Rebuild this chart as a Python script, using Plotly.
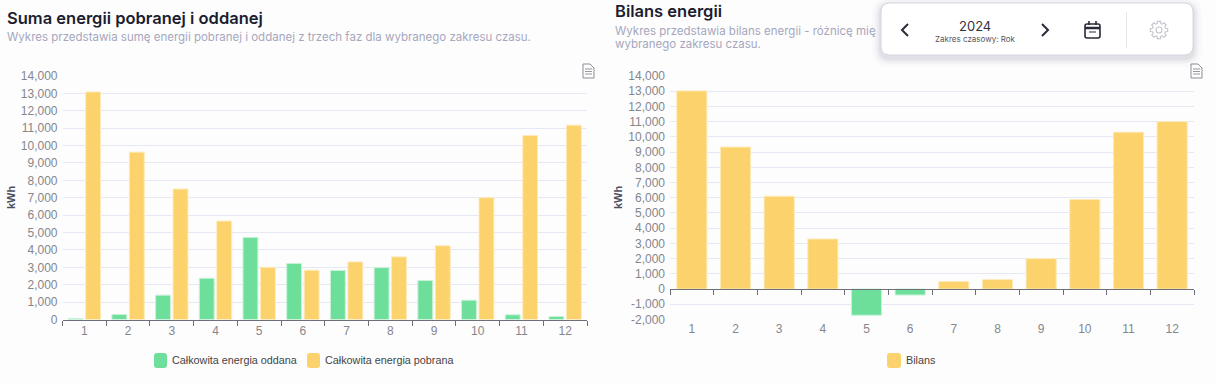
import math
import plotly.graph_objects as go

W, H = 1216, 383
months = [str(i) for i in range(1, 13)]
oddana = [60, 290, 1400, 2370, 4720, 3220, 2820, 2980, 2240, 1110, 270, 170]
pobrana = [13080, 9620, 7500, 5660, 3000, 2830, 3310, 3600, 4240, 7000, 10580, 11170]
bilans = [13020, 9330, 6100, 3290, -1720, -390, 490, 620, 2000, 5890, 10310, 11000]
ticks_left = list(range(0, 14001, 1000))
ticks_right = list(range(-2000, 14001, 1000))
labels_left = [f"{v:,}" for v in ticks_left]
labels_right = [f"{v:,}" for v in ticks_right]

GREEN, GOLD = "#6ede9b", "#fbd26c"
GRID = "#e6e8f4"
AXIS = "#6e7079"
TICK_FONT = dict(family="Liberation Sans", size=12, color="#85868c")


def px(x):
    return x / W


def py(y):
    return 1 - y / H


shapes, ann = [], []


def text(x, y, s, size, color, family="Liberation Sans", weight=None, anchor="left", angle=0):
    dx = -2 if anchor == "left" else 0
    ann.append(dict(xref="paper", yref="paper", x=px(x + dx), y=py(y), text=s, showarrow=False,
                    xanchor=anchor, yanchor="middle", textangle=angle,
                    font=dict(family=family, size=size, color=color, weight=weight)))


def rrect(x0, y0, x1, y1, r, fill, line=None, lw=0, opacity=1):
    p = (f"M{px(x0+r)},{py(y0)} L{px(x1-r)},{py(y0)} Q{px(x1)},{py(y0)} {px(x1)},{py(y0+r)} "
         f"L{px(x1)},{py(y1-r)} Q{px(x1)},{py(y1)} {px(x1-r)},{py(y1)} L{px(x0+r)},{py(y1)} "
         f"Q{px(x0)},{py(y1)} {px(x0)},{py(y1-r)} L{px(x0)},{py(y0+r)} Q{px(x0)},{py(y0)} {px(x0+r)},{py(y0)} Z")
    shapes.append(dict(type="path", xref="paper", yref="paper", path=p, fillcolor=fill, opacity=opacity,
                       line=dict(color=line or "rgba(0,0,0,0)", width=lw), layer="above"))


def poly(points, color, width=1.3, fill=None, close=False):
    p = "M" + " L".join(f"{px(a)},{py(b)}" for a, b in points) + (" Z" if close else "")
    shapes.append(dict(type="path", xref="paper", yref="paper", path=p,
                       fillcolor=fill or "rgba(0,0,0,0)", line=dict(color=color, width=width), layer="above"))


def doc_icon(x, y):
    poly([(x, y), (x + 7, y), (x + 11, y + 4), (x + 11, y + 14), (x, y + 14)], "#8b8d94", 1, close=True)
    for d in (5, 7.5, 10):
        poly([(x + 2, y + d), (x + 9, y + d)], "#8b8d94", 0.9)


fig = go.Figure()
fig.add_bar(x=months, y=oddana, name="Całkowita energia oddana", marker=dict(color=GREEN, line=dict(color="#c8f2d8", width=1)),
            width=0.34, offset=-0.37, xaxis="x", yaxis="y", showlegend=False)
fig.add_bar(x=months, y=pobrana, name="Całkowita energia pobrana", marker=dict(color=GOLD, line=dict(color="#fdeab8", width=1)),
            width=0.34, offset=0.03, xaxis="x", yaxis="y", showlegend=False)
fig.add_bar(x=months, y=bilans, name="Bilans",
            marker=dict(color=[GOLD if v >= 0 else GREEN for v in bilans],
                        line=dict(color=["#fdeab8" if v >= 0 else "#c8f2d8" for v in bilans], width=1)),
            width=0.69, xaxis="x2", yaxis="y2", showlegend=False)
fig.add_bar(x=months, y=[None] * 12, xaxis="x3", yaxis="y2", showlegend=False, hoverinfo="skip")

L0, L1, R0, R1 = 62.5, 587, 670, 1194
T, BL, BR = 76, 319.5, 319.5

axis_common = dict(type="category", tickson="boundaries", showgrid=False, zeroline=False, tickfont=TICK_FONT,
                   automargin=False)
y_common = dict(showgrid=True, gridcolor=GRID, zeroline=False, showline=False, ticks="",
                tickfont=TICK_FONT, automargin=False, ticklabelstandoff=4)
fig.update_layout(
    width=W, height=H, margin=dict(l=0, r=0, t=0, b=0), paper_bgcolor="#fdfdfe", plot_bgcolor="rgba(0,0,0,0)",
    barmode="overlay", showlegend=False,
    xaxis=dict(domain=[px(L0), px(L1)], anchor="y", ticks="outside", ticklen=5, tickcolor=AXIS,
               showline=True, linecolor=AXIS, linewidth=1, **axis_common),
    yaxis=dict(domain=[py(BL), py(T)], range=[0, 14000], tickvals=ticks_left, ticktext=labels_left, anchor="x", **y_common),
    xaxis2=dict(domain=[px(R0), px(R1)], anchor="y2", ticks="", showline=False, **axis_common),
    yaxis2=dict(domain=[py(BR), py(T)], range=[-2000, 14000], tickvals=ticks_right, ticktext=labels_right, anchor="x2", **y_common),
    xaxis3=dict(overlaying="x2", anchor="free", position=py(289), ticks="outside", ticklen=5, tickcolor=AXIS,
                showline=True, linecolor=AXIS, linewidth=1, showticklabels=False, type="category",
                tickson="boundaries", showgrid=False, zeroline=False, categoryorder="array", categoryarray=months,
                range=[-0.5, 11.5], automargin=False),
)

TITLE = "Inter"
text(7, 18, "Suma energii pobranej i oddanej", 16.5, "#1c1d30", TITLE, 600)
text(7, 37, "Wykres przedstawia sumę energii pobranej i oddanej z trzech faz dla wybranego zakresu czasu.", 11.5, "#a6a7bd", TITLE)
text(615, 11, "Bilans energii", 16.5, "#1c1d30", TITLE, 600)
text(615, 31, "Wykres przedstawia bilans energii - różnicę mię", 11.5, "#a6a7bd", TITLE)
text(615, 44, "wybranego zakresu czasu.", 11.5, "#a6a7bd", TITLE)
text(11, 197, "kWh", 11, "#4d4f5c", "Liberation Sans", 700, "center", -90)
text(618, 197, "kWh", 11, "#4d4f5c", "Liberation Sans", 700, "center", -90)

rrect(154, 353, 167, 368, 3, GREEN)
text(172, 360, "Całkowita energia oddana", 10.8, "#444", anchor="left")
rrect(307, 353, 320, 368, 3, GOLD)
text(325, 360, "Całkowita energia pobrana", 10.8, "#444", anchor="left")
rrect(887, 353, 901, 368, 3, GOLD)
text(906, 360, "Bilans", 10.8, "#444", anchor="left")

doc_icon(583, 64)
doc_icon(1191, 64)

# floating control card
for g, o in ((9, .025), (6, .035), (4, .05), (2, .07)):
    rrect(881 - g, 3 - g + 3, 1193 + g, 55 + g + 3, 9 + g, "#5a5a78", opacity=o)
rrect(881, 3, 1193, 55, 9, "#ffffff", "#d6d6e0", 1)
poly([(908, 24), (902, 30), (908, 36)], "#2a2b38", 2)
poly([(1042, 24), (1048, 30), (1042, 36)], "#2a2b38", 2)
text(975, 26, "2024", 13, "#33343f", "Inter", anchor="center")
text(975, 39, "Zakres czasowy: Rok", 8, "#55565f", "Inter", anchor="center")
rrect(1085, 24, 1100, 38, 2, "#ffffff", "#2a2b38", 1.6)
poly([(1085, 28), (1100, 28)], "#2a2b38", 2.5)
poly([(1089, 21), (1089, 25)], "#2a2b38", 1.6)
poly([(1096, 21), (1096, 25)], "#2a2b38", 1.6)
poly([(1089, 32), (1096, 32)], "#2a2b38", 1)
poly([(1126.5, 12), (1126.5, 48)], "#e6e6ec", 1)
# gear outline
gear = []
for i in range(8):
    a = i * math.pi / 4
    for da, r in ((-0.28, 6.6), (-0.18, 8.8), (0.18, 8.8), (0.28, 6.6)):
        gear.append((1159 + r * math.cos(a + da), 30 + r * math.sin(a + da)))
poly(gear, "#c3c4cc", 1.1, close=True)
shapes.append(dict(type="circle", xref="paper", yref="paper", x0=px(1156), x1=px(1162), y0=py(33), y1=py(27),
                   line=dict(color="#c3c4cc", width=1.1), layer="above"))

fig.update_layout(shapes=shapes, annotations=ann)
fig.write_html("out.html", config=dict(displayModeBar=False),
               post_script="document.body.style.margin='0';document.body.style.overflow='hidden';")
